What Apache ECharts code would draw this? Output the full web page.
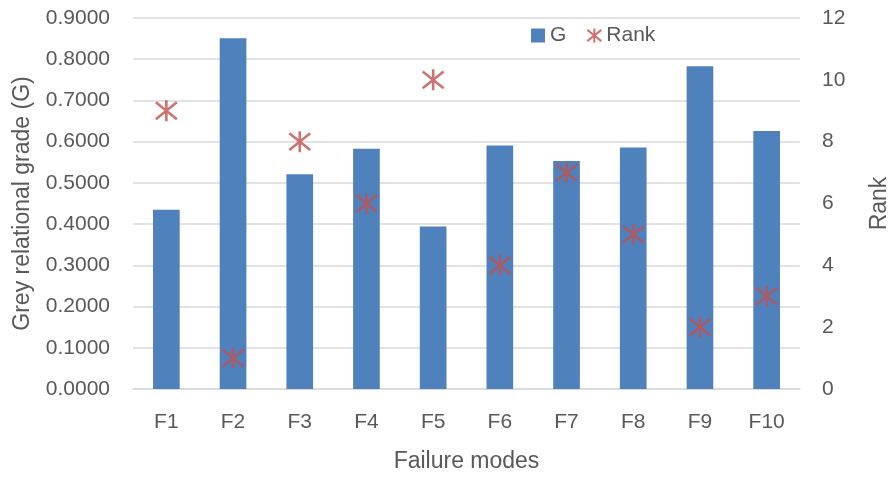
<!DOCTYPE html>
<html>
<head>
<meta charset="utf-8">
<script src="https://cdn.jsdelivr.net/npm/echarts@6/dist/echarts.min.js"></script>
<style>
  html, body { margin: 0; padding: 0; background: #fff; }
  #chart { width: 893px; height: 477px; }
</style>
</head>
<body>
<div id="chart"></div>
<script>
// ----------data----------
const categories = ['F1', 'F2', 'F3', 'F4', 'F5', 'F6', 'F7', 'F8', 'F9', 'F10'];
const greyGrade = [0.435, 0.851, 0.521, 0.583, 0.394, 0.591, 0.553, 0.586, 0.783, 0.626];
const rank = [9, 1, 8, 6, 10, 4, 7, 5, 2, 3];
// ------------------------

const textColor = '#595959';
const font = 'Liberation Sans';
const starPath = 'path://M10,0L10,20M0,2L20,18M0,18L20,2';

const chart = echarts.init(document.getElementById('chart'));

chart.setOption({
  backgroundColor: '#fff',
  textStyle: { fontFamily: font, color: textColor },
  legend: {
    top: 20,
    left: 526,
    itemWidth: 14,
    itemHeight: 14,
    itemGap: 20,
    textStyle: { fontSize: 21, color: textColor, fontFamily: font },
    data: [
      { name: 'G', icon: 'rect' },
      { name: 'Rank' },
    ],
  },
  grid: {
    left: 133,
    right: 93,
    top: 18,
    bottom: 88,
    outerBoundsMode: 'none',
    containLabel: false,
  },
  xAxis: {
    type: 'category',
    data: categories,
    name: 'Failure modes',
    nameLocation: 'center',
    nameGap: 61,
    nameTextStyle: { fontSize: 23, color: textColor },
    axisTick: { show: false },
    axisLine: { lineStyle: { color: '#d9d9d9', width: 1.5 } },
    axisLabel: { fontSize: 21, color: textColor, margin: 23 },
  },
  yAxis: [
    {
      type: 'value',
      min: 0,
      max: 0.9,
      interval: 0.1,
      name: 'Grey relational grade (G)',
      nameLocation: 'center',
      nameGap: 99,
      nameRotate: 90,
      nameTextStyle: { fontSize: 23, color: textColor },
      axisLabel: {
        fontSize: 21,
        color: textColor,
        margin: 23,
        formatter: (v) => v.toFixed(4),
      },
      splitLine: { lineStyle: { color: '#d9d9d9', width: 1.5 } },
      axisLine: { show: false },
      axisTick: { show: false },
    },
    {
      type: 'value',
      min: 0,
      max: 12,
      interval: 2,
      name: 'Rank',
      nameLocation: 'center',
      nameGap: 68,
      nameRotate: 90,
      nameTextStyle: { fontSize: 23, color: textColor },
      axisLabel: { fontSize: 21, color: textColor, margin: 22 },
      splitLine: { show: false },
      axisLine: { show: false },
      axisTick: { show: false },
    },
  ],
  series: [
    {
      name: 'G',
      type: 'bar',
      data: greyGrade,
      barWidth: '40%',
      itemStyle: { color: '#4f81bd' },
      yAxisIndex: 0,
    },
    {
      name: 'Rank',
      type: 'scatter',
      data: rank,
      yAxisIndex: 1,
      symbol: starPath,
      symbolSize: 21,
      itemStyle: { color: 'rgba(0,0,0,0)', borderColor: '#c0504d', borderWidth: 2.6 },
    },
  ],
});
</script>
</body>
</html>
